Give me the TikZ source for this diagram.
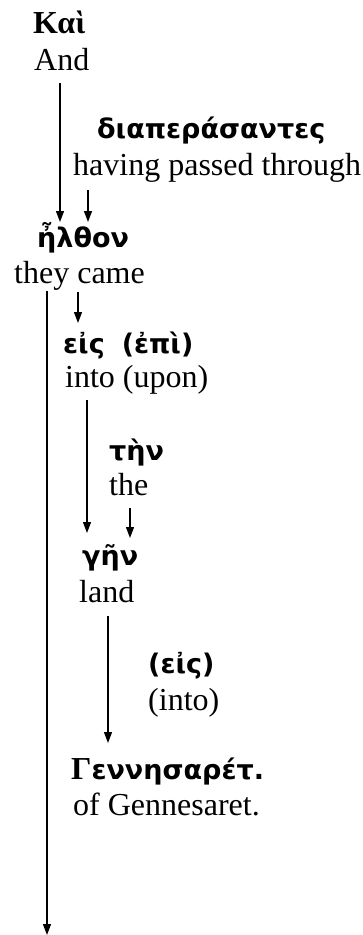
\documentclass[tikz,border=0pt]{standalone}
\usepackage{fontspec}
\setmainfont{Liberation Serif}
\newfontfamily\grk{DejaVu Sans}
\newfontfamily\grkcap{Liberation Serif}
\newcommand{\capg}[1]{{\grkcap\bfseries\fontsize{32}{38}\selectfont #1}}
\usetikzlibrary{arrows.meta}
\tikzset{
  eng/.style={anchor=base west, inner sep=0pt, font=\fontsize{32}{38}\selectfont},
  gr/.style={anchor=base west, inner sep=0pt, font=\grk\bfseries\fontsize{27}{32}\selectfont},
  arr/.style={line width=1.3pt, -{Triangle[length=11pt,width=8pt]}}
}
\begin{document}
\begin{tikzpicture}[x=1pt,y=-1pt]
\useasboundingbox (0,0) rectangle (363,935);
% words
\node[gr] (kai) at (33,33) {\capg{Καὶ}};
\node[eng] (and) at (34,70) {And};
\node[gr] (diap) at (97,138) {διαπεράσαντες};
\node[eng] (hav) at (73,175) {having passed through};
\node[gr] (elth) at (37,247) {ἦλθον};
\node[eng] (came) at (14,283) {they came};
\node[gr] (eis) at (63,353) {εἰς\hspace{17pt}(ἐπὶ)};
\node[eng] (into) at (65,387) {into (upon)};
\node[gr] (ten) at (109,460) {τὴν};
\node[eng] (the) at (109,495) {the};
\node[gr] (gen) at (82,565) {γῆν};
\node[eng] (land) at (79,602) {land};
\node[gr] (eis2) at (148,673) {(εἰς)};
\node[eng] (into2) at (148,710) {(into)};
\node[gr] (genn) at (71,779) {\capg{Γ}εννησαρέτ.};
\node[eng] (ofg) at (73,815) {of Gennesaret.};
% arrow ends
\coordinate (a1s) at (60,83);  \coordinate (a1e) at (60,222);
\coordinate (a2s) at (88,190); \coordinate (a2e) at (88,222);
\coordinate (a3s) at (47,291); \coordinate (a3e) at (47,935);
\coordinate (a4s) at (78,292); \coordinate (a4e) at (78,323);
\coordinate (a5s) at (87,400); \coordinate (a5e) at (87,533);
\coordinate (a6s) at (130,508); \coordinate (a6e) at (130,538);
\coordinate (a7s) at (108,616); \coordinate (a7e) at (108,743);
\draw[arr] (a1s) -- (a1e);
\draw[arr] (a2s) -- (a2e);
\draw[arr] (a3s) -- (a3e);
\draw[arr] (a4s) -- (a4e);
\draw[arr] (a5s) -- (a5e);
\draw[arr] (a6s) -- (a6e);
\draw[arr] (a7s) -- (a7e);
\end{tikzpicture}
\end{document}
